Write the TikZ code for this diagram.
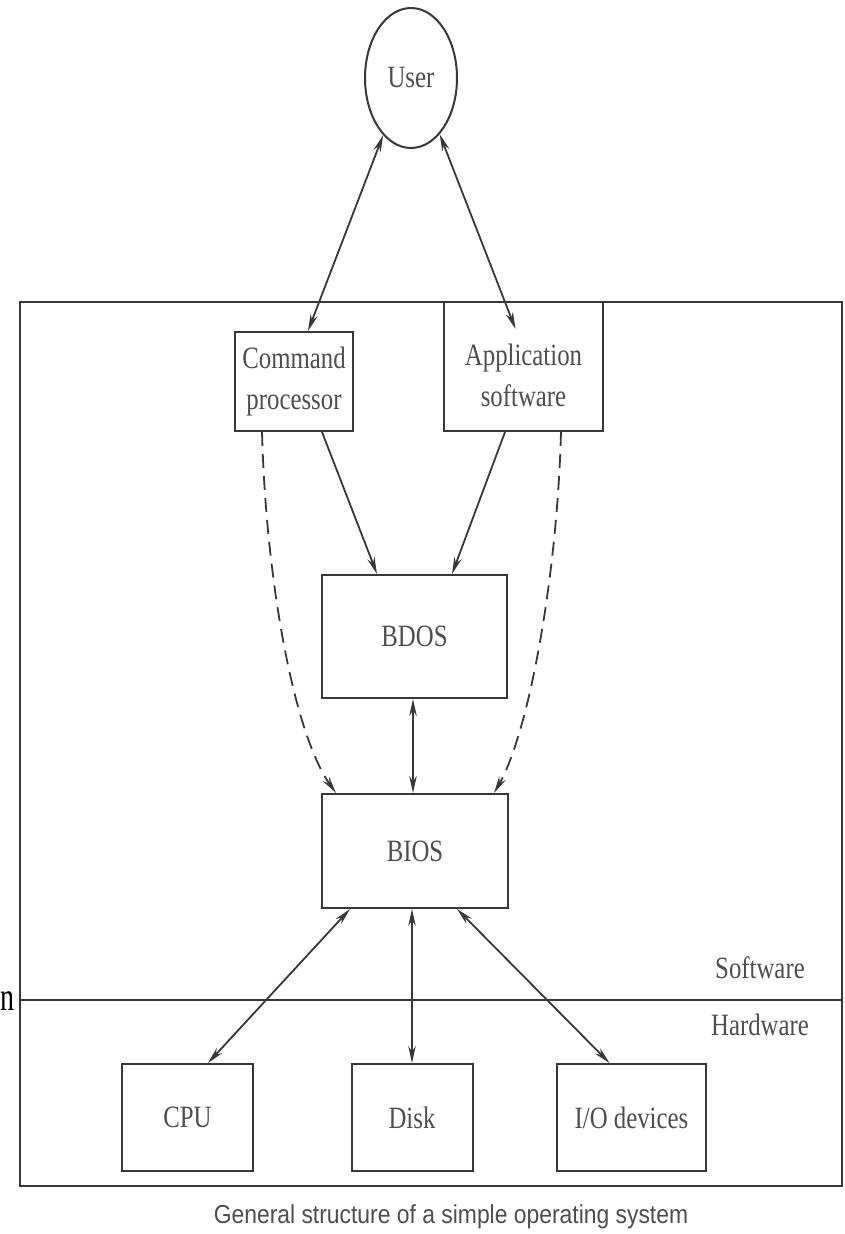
\documentclass[tikz,border=0pt]{standalone}
\usepackage{fontspec}
\usetikzlibrary{shapes.geometric,arrows.meta,calc}
\newfontfamily\diagserif[FakeStretch=0.8]{Liberation Serif}
\newfontfamily\diagsans[FakeStretch=0.88]{Liberation Sans}
\newfontfamily\narrowserif[FakeStretch=0.7]{Liberation Serif}
\definecolor{ink}{HTML}{383838}
\definecolor{txt}{HTML}{4E4E4E}
\begin{document}
\begin{tikzpicture}[x=1pt,y=-1pt,
  box/.style={draw=ink, line width=2pt, inner sep=0pt, font=\diagserif\fontsize{31}{41}\selectfont, text=txt, align=center},
  lbl/.style={inner sep=0pt, font=\diagserif\fontsize{31}{41}\selectfont, text=txt, align=center},
  conn/.style={draw=ink, line width=1.8pt},
  tip/.style={-{Stealth[length=17pt,width=7.5pt]}},
  tips/.style={{Stealth[length=17pt,width=7.5pt]}-{Stealth[length=17pt,width=7.5pt]}},
  dashline/.style={dash pattern=on 14pt off 8pt}]
\useasboundingbox (0,0) rectangle (845,1234);

% outer system frame
\node[draw=ink, line width=2.2pt, minimum width=822pt, minimum height=884pt, inner sep=0pt] (system) at (431,744) {};
\coordinate (divy) at (0,1000);
\draw[ink, line width=2.2pt] (system.west |- divy) -- (system.east |- divy);

% user
\node[box, ellipse, minimum width=92pt, minimum height=140pt] (user) at (411,78) {User};

% software boxes
\node[box, minimum width=118pt, minimum height=99pt] (cmd) at (294,381.5) {Command\\processor};
\node[box, minimum width=159pt, minimum height=129pt] (app) at (523.5,366.5) {};
\node[lbl] (apptext) at (523.5,375) {Application\\software};
\node[box, minimum width=185pt, minimum height=123pt] (bdos) at (414.5,636.5) {BDOS};
\node[box, minimum width=186pt, minimum height=114pt] (bios) at (415,851) {BIOS};

% hardware boxes
\node[box, minimum width=131pt, minimum height=107pt] (cpu) at (187.5,1117.5) {CPU};
\node[box, minimum width=121pt, minimum height=107pt] (disk) at (412,1117.5) {Disk};
\node[box, minimum width=149pt, minimum height=107pt] (io) at (631.5,1117.5) {I/O devices};

% layer labels
\node[lbl] (swlabel) at (760,968) {Software};
\node[lbl] (hwlabel) at (760,1025) {Hardware};

% caption
\node[inner sep=0pt, font=\diagsans\fontsize{26}{30}\selectfont, text=txt] (caption) at (451,1217) {General structure of a simple operating system};

% stray character at left edge
\node[inner sep=0pt, font=\narrowserif\fontsize{40}{40}\selectfont, text=black, anchor=base west] (stray) at (0.5,1010) {n};

% connectors
\draw[conn, tips] (user.244) -- ($(cmd.north)+(14,0)$);
\draw[conn, tips] (user.297) -- ($(app.north)+(-8,28)$);
\draw[conn, tip] ($(cmd.south)+(28,0)$) -- ($(bdos.north)+(-37.5,0)$);
\draw[conn, tip] ($(app.south)+(-18.5,0)$) -- ($(bdos.north)+(37.5,0)$);
\draw[conn, tip, dashline] ($(cmd.south)+(-32,0)$) .. controls +(4,149) and +(-42,-59) .. ($(bios.north west)+(15,0)$);
\draw[conn, tip, dashline] ($(app.south)+(37.5,0)$) .. controls +(-4,149) and +(34,-59) .. ($(bios.north east)+(-15,0)$);
\draw[conn, tips] ($(bdos.south)+(-1.5,0)$) -- ($(bios.north)+(-2,0)$);
\draw[conn, tips] ($(bios.south)+(-65,0)$) -- ($(cpu.north)+(20.5,0)$);
\draw[conn, tips] (disk.north |- bios.south) -- (disk.north);
\draw[conn, tips] ($(bios.south)+(42,0)$) -- ($(io.north)+(-22,0)$);
\end{tikzpicture}
\end{document}
